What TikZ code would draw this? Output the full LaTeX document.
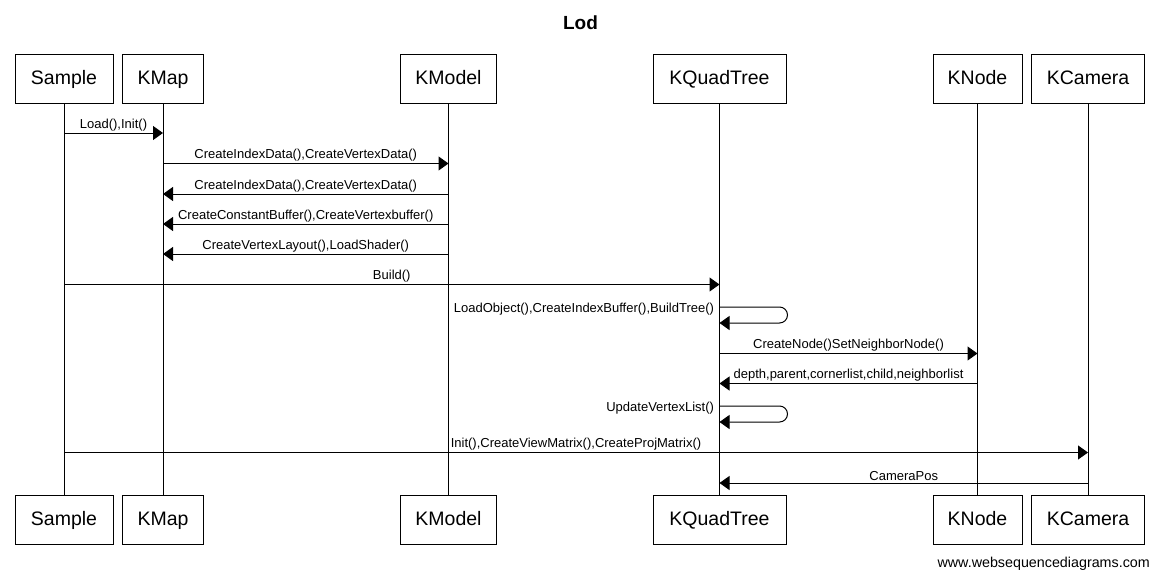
\documentclass[tikz,border=0pt]{standalone}
\usepackage{fontspec}
\setmainfont{Liberation Sans}
\usetikzlibrary{arrows.meta}
\begin{document}
\begin{tikzpicture}[x=1pt,y=-1pt,
  part/.style={draw, line width=1pt, minimum height=49pt, inner sep=0pt, text height=14pt, text depth=3pt, font=\fontsize{19.5}{22}\selectfont},
  life/.style={line width=1pt},
  msg/.style={line width=1pt, -{Triangle[length=10pt,width=14pt]}},
  lbl/.style={midway, anchor=south, inner sep=0pt, yshift=1.5pt, font=\fontsize{13}{15}\selectfont},
  selflbl/.style={anchor=east, inner sep=0pt, xshift=-5pt, yshift=-2pt, font=\fontsize{13}{15}\selectfont}]
\useasboundingbox (0,0) rectangle (1159,579);

\node[font=\bfseries\fontsize{19}{22}\selectfont] (title) at (580.5,22.5) {Lod};

% participants top
\node[part, minimum width=98pt] (sampleT) at (64,78.5) {Sample};
\node[part, minimum width=81pt] (kmapT) at (163,78.5) {KMap};
\node[part, minimum width=96pt] (kmodelT) at (448.5,78.5) {KModel};
\node[part, minimum width=133pt] (kqtT) at (719.5,78.5) {KQuadTree};
\node[part, minimum width=89pt] (knodeT) at (977.5,78.5) {KNode};
\node[part, minimum width=113pt] (kcamT) at (1088,78.5) {KCamera};

% participants bottom
\node[part, minimum width=98pt] (sampleB) at (64,520) {Sample};
\node[part, minimum width=81pt] (kmapB) at (163,520) {KMap};
\node[part, minimum width=96pt] (kmodelB) at (448.5,520) {KModel};
\node[part, minimum width=133pt] (kqtB) at (719.5,520) {KQuadTree};
\node[part, minimum width=89pt] (knodeB) at (977.5,520) {KNode};
\node[part, minimum width=113pt] (kcamB) at (1088,520) {KCamera};

% lifelines
\draw[life] (sampleT.south) -- (sampleB.north);
\draw[life] (kmapT.south) -- (kmapB.north);
\draw[life] (kmodelT.south) -- (kmodelB.north);
\draw[life] (kqtT.south) -- (kqtB.north);
\draw[life] (knodeT.south) -- (knodeB.north);
\draw[life] (kcamT.south) -- (kcamB.north);

% messages
\draw[msg] (sampleT |- 0,133) -- node[lbl]{Load(),Init()} (kmapT |- 0,133);
\draw[msg] (kmapT |- 0,163.5) -- node[lbl]{CreateIndexData(),CreateVertexData()} (kmodelT |- 0,163.5);
\draw[msg] (kmodelT |- 0,194) -- node[lbl]{CreateIndexData(),CreateVertexData()} (kmapT |- 0,194);
\draw[msg] (kmodelT |- 0,224) -- node[lbl]{CreateConstantBuffer(),CreateVertexbuffer()} (kmapT |- 0,224);
\draw[msg] (kmodelT |- 0,254) -- node[lbl]{CreateVertexLayout(),LoadShader()} (kmapT |- 0,254);
\draw[msg] (sampleT |- 0,284.5) -- node[lbl]{Build()} (kqtT |- 0,284.5);

\draw[msg, rounded corners=8pt] (kqtT |- 0,307) node[selflbl]{LoadObject(),CreateIndexBuffer(),BuildTree()}
  -- ++(68,0) -- ++(0,16) -- (kqtT |- 0,323);

\draw[msg] (kqtT |- 0,353.5) -- node[lbl]{CreateNode()SetNeighborNode()} (knodeT |- 0,353.5);
\draw[msg] (knodeT |- 0,383.5) -- node[lbl]{depth,parent,cornerlist,child,neighborlist} (kqtT |- 0,383.5);

\draw[msg, rounded corners=8pt] (kqtT |- 0,406) node[selflbl]{UpdateVertexList()}
  -- ++(68,0) -- ++(0,16) -- (kqtT |- 0,422);

\draw[msg] (sampleT |- 0,452.5) -- node[lbl]{Init(),CreateViewMatrix(),CreateProjMatrix()} (kcamT |- 0,452.5);
\draw[msg] (kcamT |- 0,483) -- node[lbl]{CameraPos} (kqtT |- 0,483);

\node[anchor=east, inner sep=0pt, font=\fontsize{14.3}{16}\selectfont] (wm) at (1150,564) {www.websequencediagrams.com};
\end{tikzpicture}
\end{document}
